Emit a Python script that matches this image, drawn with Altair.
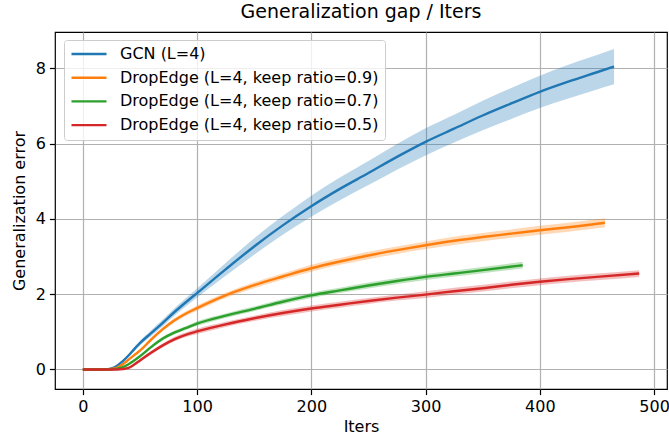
import altair as alt
import pandas as pd

# Mean generalization error and spread (std) per training iteration
gcn_iters = [0, 10, 20, 25, 30, 35, 40, 45, 50, 60, 70, 80, 90, 100, 125, 150, 175, 200, 225, 250, 275, 300, 325, 350, 375, 400, 425, 450, 465]
gcn_mean = [0, 0, 0, 0.03, 0.1, 0.22, 0.37, 0.54, 0.7, 0.97, 1.24, 1.52, 1.78, 2.03, 2.66, 3.27, 3.83, 4.34, 4.8, 5.22, 5.65, 6.05, 6.4, 6.75, 7.07, 7.38, 7.65, 7.9, 8.05]
gcn_std = [0, 0, 0, 0.01, 0.02, 0.03, 0.04, 0.05, 0.06, 0.08, 0.09, 0.1, 0.11, 0.12, 0.17, 0.22, 0.25, 0.28, 0.3, 0.32, 0.34, 0.36, 0.37, 0.39, 0.41, 0.43, 0.45, 0.46, 0.47]

k09_iters = [0, 10, 20, 25, 30, 35, 40, 45, 50, 60, 70, 80, 90, 100, 125, 150, 175, 200, 225, 250, 275, 300, 325, 350, 375, 400, 425, 457]
k09_mean = [0, 0, 0, 0.01, 0.05, 0.14, 0.26, 0.38, 0.5, 0.8, 1.07, 1.3, 1.48, 1.63, 1.97, 2.24, 2.47, 2.69, 2.87, 3.03, 3.17, 3.3, 3.42, 3.52, 3.61, 3.7, 3.78, 3.9]
k09_std = [0, 0, 0, 0.01, 0.01, 0.02, 0.03, 0.03, 0.04, 0.05, 0.05, 0.06, 0.06, 0.07, 0.07, 0.08, 0.08, 0.09, 0.09, 0.1, 0.1, 0.1, 0.11, 0.11, 0.11, 0.12, 0.12, 0.12]

k07_iters = [0, 10, 20, 25, 30, 35, 40, 45, 50, 60, 70, 80, 90, 100, 125, 150, 175, 200, 225, 250, 275, 300, 325, 350, 385]
k07_mean = [0, 0, 0, 0, 0.02, 0.06, 0.14, 0.24, 0.35, 0.6, 0.82, 0.98, 1.1, 1.22, 1.43, 1.61, 1.8, 1.97, 2.1, 2.23, 2.35, 2.46, 2.55, 2.64, 2.77]
k07_std = [0, 0, 0, 0, 0.01, 0.01, 0.02, 0.03, 0.03, 0.04, 0.05, 0.05, 0.05, 0.06, 0.06, 0.06, 0.07, 0.07, 0.07, 0.08, 0.08, 0.08, 0.08, 0.08, 0.09]

k05_iters = [0, 10, 20, 30, 35, 40, 45, 50, 60, 70, 80, 90, 100, 125, 150, 175, 200, 225, 250, 275, 300, 325, 350, 375, 400, 425, 450, 487]
k05_mean = [0, 0, 0, 0, 0.01, 0.04, 0.13, 0.24, 0.45, 0.64, 0.8, 0.92, 1.01, 1.2, 1.36, 1.5, 1.62, 1.72, 1.82, 1.91, 1.99, 2.08, 2.16, 2.25, 2.33, 2.4, 2.46, 2.55]
k05_std = [0, 0, 0, 0, 0.01, 0.02, 0.03, 0.04, 0.05, 0.05, 0.06, 0.06, 0.07, 0.07, 0.07, 0.08, 0.08, 0.08, 0.08, 0.08, 0.09, 0.09, 0.09, 0.09, 0.09, 0.09, 0.09, 0.09]

series_names = [
    "GCN (L=4)",
    "DropEdge (L=4, keep ratio=0.9)",
    "DropEdge (L=4, keep ratio=0.7)",
    "DropEdge (L=4, keep ratio=0.5)",
]
series_colors = ["#1f77b4", "#ff7f0e", "#2ca02c", "#d62728"]

x_ticks = [0, 100, 200, 300, 400, 500]
y_ticks = [0, 2, 4, 6, 8]

rows = []
for name, its, mu, sd in zip(
    series_names,
    [gcn_iters, k09_iters, k07_iters, k05_iters],
    [gcn_mean, k09_mean, k07_mean, k05_mean],
    [gcn_std, k09_std, k07_std, k05_std],
):
    for i, m, s in zip(its, mu, sd):
        rows.append({"run": name, "iter": i, "err": m, "lo": m - s, "hi": m + s})
df = pd.DataFrame(rows)

FONT = "DejaVu Sans"

x_enc = alt.X(
    "iter:Q",
    title="Iters",
    scale=alt.Scale(domain=[-24.35, 511.35], nice=False, zero=False),
    axis=alt.Axis(values=x_ticks, format="d"),
)
y_scale = alt.Scale(domain=[-0.52, 8.97], nice=False, zero=False)
color_scale = alt.Scale(domain=series_names, range=series_colors)

# shaded +/- std band for each run
band = alt.Chart(df).mark_area(opacity=0.3, interpolate="monotone", clip=True).encode(
    x=x_enc,
    y=alt.Y("lo:Q", scale=y_scale, title="Generalization error",
            axis=alt.Axis(values=y_ticks, format="d")),
    y2="hi:Q",
    color=alt.Color("run:N", scale=color_scale, legend=None),
    detail="run:N",
)

# mean curve for each run, carrying the legend
lines = alt.Chart(df).mark_line(strokeWidth=2.4, interpolate="monotone", clip=True).encode(
    x=x_enc,
    y=alt.Y("err:Q", scale=y_scale),
    color=alt.Color(
        "run:N",
        scale=color_scale,
        sort=series_names,
        legend=alt.Legend(
            title=None,
            orient="none",
            legendX=9,
            legendY=8,
            symbolType="stroke",
            symbolSize=1225,
            symbolStrokeWidth=2.4,
            labelOffset=12,
            labelLimit=500,
            clipHeight=16,
            rowPadding=7.7,
            padding=6,
            fillColor="rgba(255,255,255,0.8)",
            strokeColor="#cccccc",
            cornerRadius=3,
        ),
    ),
)

chart = (
    alt.layer(band, lines)
    .resolve_legend(color="independent")
    .properties(
        width=612,
        height=357,
        title=alt.TitleParams(
            "Generalization gap / Iters",
            font=FONT,
            fontSize=19,
            fontWeight="normal",
            color="black",
            anchor="middle",
            offset=10,
        ),
        autosize=alt.AutoSizeParams(type="none"),
        padding={"left": 55, "top": 32, "right": 2, "bottom": 47},
    )
    .configure_view(stroke="black", strokeWidth=1.2)
    .configure_axis(
        grid=True,
        gridColor="#b0b0b0",
        gridWidth=1.2,
        domain=False,
        tickColor="black",
        tickSize=5.6,
        tickWidth=1.2,
        labelFont=FONT,
        labelFontSize=16,
        labelColor="black",
        titleFont=FONT,
        titleFontSize=16,
        titleFontWeight="normal",
        titleColor="black",
    )
    .configure_axisX(labelPadding=4, titlePadding=4)
    .configure_axisY(labelPadding=4, titlePadding=8)
    .configure_legend(labelFont=FONT, labelFontSize=16, labelColor="black", symbolOpacity=1)
)

chart.save("out.html", embed_options={"renderer": "svg", "actions": False})
